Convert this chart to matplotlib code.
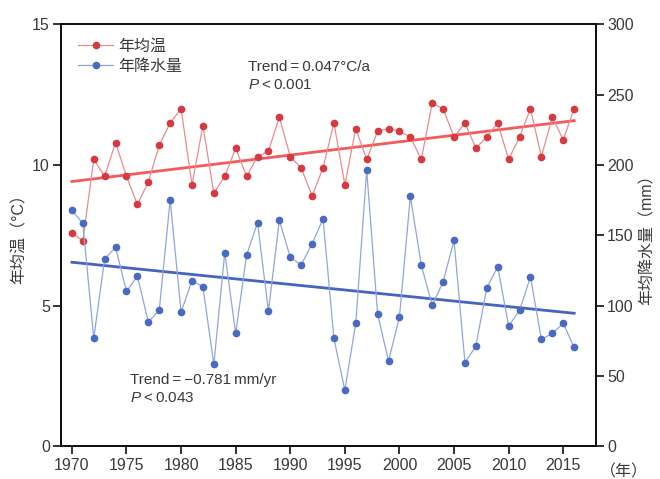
import numpy as np
import matplotlib
matplotlib.use("Agg")
import matplotlib.pyplot as plt

plt.rcParams['font.family'] = ['Liberation Sans', 'Noto Sans CJK SC', 'DejaVu Sans']
plt.rcParams['mathtext.fontset'] = 'custom'
plt.rcParams['mathtext.rm'] = 'Liberation Sans'
plt.rcParams['mathtext.it'] = 'Liberation Sans:italic'
plt.rcParams['axes.unicode_minus'] = False

years = list(range(1970, 2017))
temperature = [7.6, 7.3, 10.2, 9.6, 10.8, 9.6, 8.6, 9.4, 10.7, 11.5,
               12.0, 9.3, 11.4, 9.0, 9.6, 10.6, 9.6, 10.3, 10.5, 11.7,
               10.3, 9.9, 8.9, 9.9, 11.5, 9.3, 11.3, 10.2, 11.2, 11.3,
               11.2, 11.0, 10.2, 12.2, 12.0, 11.0, 11.5, 10.6, 11.0, 11.5,
               10.2, 11.0, 12.0, 10.3, 11.7, 10.9, 12.0]
precipitation = [167.8, 158.6, 76.8, 133.4, 141.5, 110.2, 121.1, 88.4, 96.9, 175.3,
                 95.5, 117.8, 113.5, 58.3, 137.7, 80.4, 136.0, 159.0, 96.2, 160.7,
                 134.4, 129.1, 144.1, 161.8, 76.8, 39.9, 87.7, 196.4, 94.1, 60.7,
                 92.0, 178.0, 128.9, 100.2, 117.1, 146.5, 59.5, 71.4, 112.8, 127.7,
                 85.6, 96.7, 120.6, 76.1, 80.4, 87.5, 70.4]
xticks = [1970, 1975, 1980, 1985, 1990, 1995, 2000, 2005, 2010, 2015]
label_temp = "年均温"
label_prec = "年降水量"

x = np.array(years, dtype=float)
t = np.array(temperature)
p = np.array(precipitation)

fig = plt.figure(figsize=(6.6, 4.79), dpi=100)
ax = fig.add_axes([0.0924, 0.068, 0.8106, 0.881])
ax2 = ax.twinx()

red_m = '#d63a40'
red_l = '#ec8a8e'
blue_m = '#4a69c0'
blue_l = '#93a6dc'
txt = '#3a3a3a'

ax.plot(x, t, '-', color=red_l, lw=0.9, marker='o', ms=4.5,
        mfc=red_m, mec=red_m, label=label_temp, zorder=3)
ct = np.polyfit(x, t, 1)
ax.plot([x[0], x[-1]], np.polyval(ct, [x[0], x[-1]]), color='#f25a5e', lw=2.0, zorder=2)

ax2.plot(x, p, '-', color=blue_l, lw=0.9, marker='o', ms=4.5,
         mfc=blue_m, mec=blue_m, label=label_prec, zorder=3)
cp = np.polyfit(x, p, 1)
ax2.plot([x[0], x[-1]], np.polyval(cp, [x[0], x[-1]]), color='#4563bf', lw=2.0, zorder=2)

ax.set_xlim(1969, 2018)
ax.set_ylim(0, 15)
ax2.set_ylim(0, 300)
ax.set_xticks(xticks)
ax.set_yticks([0, 5, 10, 15])
ax2.set_yticks([0, 50, 100, 150, 200, 250, 300])

for a in (ax, ax2):
    for s in a.spines.values():
        s.set_linewidth(1.4)
        s.set_color('#111111')
    a.tick_params(axis='both', direction='out', length=6, width=1.2,
                  labelsize=11.5, labelcolor=txt, color='#111111', pad=2)

ax.set_ylabel("年均温（°C）", fontsize=11.5, color=txt, labelpad=4)
ax2.set_ylabel("年均降水量（mm）", fontsize=11.5, color=txt, rotation=90, labelpad=4)
ax.text(1.007, -0.06, "（年）", transform=ax.transAxes, fontsize=11.5, color=txt,
        ha='left', va='center')

h1, l1 = ax.get_legend_handles_labels()
h2, l2 = ax2.get_legend_handles_labels()
ax2.legend(h1 + h2, l1 + l2, loc='upper left', bbox_to_anchor=(0.005, 1.0),
           frameon=False, fontsize=11.5, handlelength=2.2, handletextpad=0.3,
           labelspacing=0.3, labelcolor=txt)

ax.text(1986.1, 13.5, "Trend\u2009=\u20090.047°C/a", fontsize=11, color=txt, va='center')
ax.text(1986.1, 12.85, "$P$\u2009<\u20090.001", fontsize=11, color=txt, va='center')
ax.text(1975.35, 2.36, "Trend\u2009=\u2009\u22120.781\u2009mm/yr", fontsize=11, color=txt, va='center')
ax.text(1975.35, 1.72, "$P$\u2009<\u20090.043", fontsize=11, color=txt, va='center')

fig.savefig("out.png", dpi=100)
